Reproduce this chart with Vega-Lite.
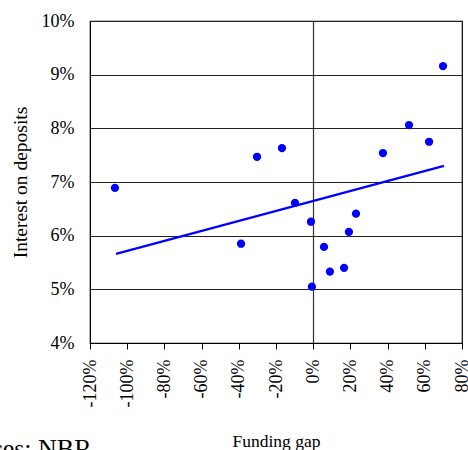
{
  "$schema": "https://vega.github.io/schema/vega-lite/v6.json",
  "width": 372,
  "height": 322,
  "autosize": "none",
  "padding": {"left": 90, "top": 21, "right": 6, "bottom": 107},
  "config": {
    "font": "Liberation Serif",
    "view": {"stroke": "#000000", "strokeWidth": 1.2}
  },
  "title": {
    "text": "Sources: NBR",
    "orient": "bottom",
    "anchor": "start",
    "frame": "group",
    "font": "Liberation Serif",
    "fontSize": 26,
    "fontWeight": "normal",
    "color": "#000000",
    "dx": -148,
    "offset": -14
  },
  "datasets": {
    "points": [
      {"gap": -1.066, "rate": 0.0689},
      {"gap": -0.388, "rate": 0.0585},
      {"gap": -0.302, "rate": 0.0747},
      {"gap": -0.168, "rate": 0.0763},
      {"gap": -0.098, "rate": 0.0661},
      {"gap": -0.012, "rate": 0.0626},
      {"gap": -0.007, "rate": 0.0505},
      {"gap": 0.058, "rate": 0.0579},
      {"gap": 0.09, "rate": 0.0533},
      {"gap": 0.166, "rate": 0.054},
      {"gap": 0.192, "rate": 0.0607},
      {"gap": 0.23, "rate": 0.0641},
      {"gap": 0.375, "rate": 0.0754},
      {"gap": 0.515, "rate": 0.0806},
      {"gap": 0.623, "rate": 0.0775},
      {"gap": 0.698, "rate": 0.0916}
    ],
    "trend": [
      {"gap": -1.06, "rate": 0.0566},
      {"gap": 0.703, "rate": 0.073}
    ]
  },
  "encoding": {
    "x": {
      "field": "gap",
      "type": "quantitative",
      "scale": {"domain": [-1.2, 0.8], "nice": false, "zero": false},
      "axis": {
        "title": "Funding gap",
        "values": [-1.2, -1, -0.8, -0.6, -0.4, -0.2, 0, 0.2, 0.4, 0.6, 0.8],
        "labelExpr": "(datum.value < -0.001 ? '-' : '') + format(abs(datum.value) * 100, '.0f') + '%'",
        "labelAngle": -90,
        "labelFont": "Liberation Serif",
        "labelFontSize": 18,
        "labelColor": "#000000",
        "labelPadding": 10,
        "labelFlush": false,
        "labelOverlap": false,
        "labelBound": false,
        "tickSize": 6,
        "tickColor": "#000000",
        "domainColor": "#000000",
        "grid": true,
        "gridColor": "#333333",
        "gridWidth": 1.2,
        "gridOpacity": {"condition": {"test": "abs(datum.value) < 0.001", "value": 1}, "value": 0},
        "titleFont": "Liberation Serif",
        "titleFontSize": 17.5,
        "titleFontWeight": "normal",
        "titleColor": "#000000",
        "titlePadding": 26
      }
    },
    "y": {
      "field": "rate",
      "type": "quantitative",
      "scale": {"domain": [0.04, 0.1], "nice": false, "zero": false},
      "axis": {
        "title": "Interest on deposits",
        "values": [0.04, 0.05, 0.06, 0.07, 0.08, 0.09, 0.1],
        "labelExpr": "format(datum.value * 100, '.0f') + '%'",
        "labelFont": "Liberation Serif",
        "labelFontSize": 18,
        "labelColor": "#000000",
        "labelPadding": 16,
        "labelFlush": false,
        "labelOverlap": false,
        "tickSize": 0,
        "domainColor": "#000000",
        "grid": true,
        "gridColor": "#222222",
        "gridOpacity": 1,
        "gridWidth": 1.2,
        "titleFont": "Liberation Serif",
        "titleFontSize": 19.5,
        "titleFontWeight": "normal",
        "titleColor": "#000000",
        "titlePadding": 11
      }
    }
  },
  "layer": [
    {
      "data": {"name": "trend"},
      "mark": {"type": "line", "color": "#0000FF", "strokeWidth": 2.2}
    },
    {
      "data": {"name": "points"},
      "mark": {"type": "circle", "color": "#0000FF", "opacity": 1, "size": 68}
    }
  ]
}
